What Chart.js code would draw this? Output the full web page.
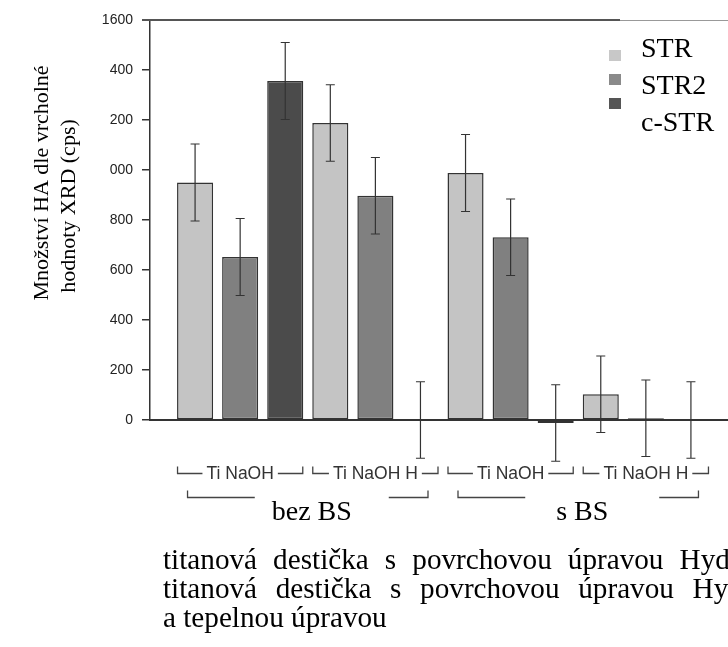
<!DOCTYPE html>
<html><head><meta charset="utf-8">
<script src="https://cdn.jsdelivr.net/npm/chart.js@4.4.0/dist/chart.umd.min.js"></script>
<style>
html,body{margin:0;padding:0;background:#fff;overflow:hidden;width:728px;height:647px;}
#wrap{position:relative;width:728px;height:647px;overflow:hidden;}
canvas{position:absolute;left:0;top:0;}
.cap{position:absolute;left:163px;font-family:'Liberation Serif','Times New Roman',serif;font-size:29.2px;line-height:29px;color:#000;white-space:nowrap;}
</style></head><body>
<div id="wrap">
<canvas id="c" width="780" height="647" style="width:780px;height:647px"></canvas>
<div class="cap" style="top:545px;word-spacing:8.8px">titanová destička s povrchovou úpravou Hyd</div>
<div class="cap" style="top:574px;word-spacing:11.4px">titanová destička s povrchovou úpravou Hyd</div>
<div class="cap" style="top:603px">a tepelnou úpravou</div>
</div>
<script>
// ---- data ----
const groupLabels = ['Ti NaOH', 'Ti NaOH H', 'Ti NaOH', 'Ti NaOH H'];
const superGroups = ['bez BS', 's BS'];
const seriesNames = ['STR', 'STR2', 'c-STR'];
const strValues = [950, 1188, 988, 103];
const str2Values = [652, 897, 731, 7];
const cstrValues = [1356, 0, -12, 0];
const strErrors = [154, 153, 154, 153];
const str2Errors = [154, 153, 153, 153];
const cstrErrors = [154, 153, 153, 153];
const yTickLabels = ['0', '200', '400', '600', '800', '000', '200', '400', '1600'];
const yAxisTitle = ['Množství HA dle vrcholné', 'hodnoty XRD (cps)'];

// ---- style ----
const seriesColors = ['#c4c4c4', '#808080', '#4b4b4b'];
const legendColors = ['#c8c8c8', '#8a8a8a', '#555555'];
const serif = "'Liberation Serif','Times New Roman',serif";
const sans = "'Liberation Sans',Arial,sans-serif";

// ---- build slot table (one slot per bar, plus empty ends) ----
const nSeries = seriesNames.length;
const nSlots = groupLabels.length * nSeries + 2;
const slotLabels = new Array(nSlots).fill('');
groupLabels.forEach((g, gi) => { slotLabels[1 + gi * nSeries + 1] = g; });
const allValues = [strValues, str2Values, cstrValues];
const allErrors = [strErrors, str2Errors, cstrErrors];
const datasets = seriesNames.map((name, si) => {
  const data = new Array(nSlots).fill(null);
  const errs = new Array(nSlots).fill(null);
  allValues[si].forEach((v, gi) => { data[1 + gi * nSeries + si] = v; errs[1 + gi * nSeries + si] = allErrors[si][gi]; });
  return {
    label: name, data, errors: errs,
    backgroundColor: seriesColors[si], borderColor: '#333', borderWidth: 1.5,
    borderSkipped: false, skipNull: true, clip: false,
    categoryPercentage: 1.0, barPercentage: 0.8
  };
});

const errorBars = {
  id: 'errorBars',
  afterDatasetsDraw(chart) {
    const ctx = chart.ctx, y = chart.scales.y, x = chart.scales.x;
    ctx.save();
    ctx.strokeStyle = '#333'; ctx.lineWidth = 1.2;
    chart.data.datasets.forEach((ds) => {
      ds.data.forEach((v, i) => {
        if (v === null) return;
        const e = ds.errors[i];
        const px = x.getPixelForValue(i);
        const t = y.getPixelForValue(v + e), b = y.getPixelForValue(v - e);
        ctx.beginPath();
        ctx.moveTo(px, t); ctx.lineTo(px, b);
        ctx.moveTo(px - 4.5, t); ctx.lineTo(px + 4.5, t);
        ctx.moveTo(px - 4.5, b); ctx.lineTo(px + 4.5, b);
        ctx.stroke();
      });
    });
    ctx.restore();
  }
};

const decorations = {
  id: 'decorations',
  afterDraw(chart) {
    const ctx = chart.ctx, x = chart.scales.x, area = chart.chartArea;
    const pitch = x.getPixelForValue(1) - x.getPixelForValue(0);
    ctx.save();
    // top frame line
    ctx.strokeStyle = '#555'; ctx.lineWidth = 2;
    ctx.beginPath(); ctx.moveTo(area.left - 8, area.top); ctx.lineTo(area.left + 470, area.top); ctx.stroke();
    ctx.strokeStyle = '#999'; ctx.lineWidth = 1;
    ctx.beginPath(); ctx.moveTo(area.left + 470, area.top + 0.5); ctx.lineTo(area.right, area.top + 0.5); ctx.stroke();

    // group brackets around tick labels
    ctx.font = '17.5px ' + sans;
    ctx.strokeStyle = '#444'; ctx.lineWidth = 1.3;
    const by = area.bottom + 53.5;
    groupLabels.forEach((g, gi) => {
      const first = 1 + gi * nSeries, last = first + nSeries - 1, mid = first + 1;
      const l = x.getPixelForValue(first) - pitch / 2 + 5;
      const r = x.getPixelForValue(last) + pitch / 2 - 5;
      const c = x.getPixelForValue(mid);
      const w = ctx.measureText(g).width;
      ctx.beginPath();
      ctx.moveTo(l, by - 7); ctx.lineTo(l, by); ctx.lineTo(c - w / 2 - 4, by);
      ctx.moveTo(c + w / 2 + 4, by); ctx.lineTo(r, by); ctx.lineTo(r, by - 7);
      ctx.stroke();
    });

    // super-group brackets and labels
    ctx.font = '28px ' + serif;
    ctx.fillStyle = '#000'; ctx.textAlign = 'center'; ctx.textBaseline = 'alphabetic';
    const sy = area.bottom + 77.5;
    superGroups.forEach((s, si) => {
      const first = 1 + si * 2 * nSeries, last = first + 2 * nSeries - 1;
      const l = x.getPixelForValue(first) - pitch / 2 + 15;
      const r = x.getPixelForValue(last) + pitch / 2 - 15;
      const c = (x.getPixelForValue(first) + x.getPixelForValue(last)) / 2;
      ctx.beginPath();
      ctx.moveTo(l, sy - 7); ctx.lineTo(l, sy); ctx.lineTo(c - 53, sy);
      ctx.moveTo(c + 81, sy); ctx.lineTo(r, sy); ctx.lineTo(r, sy - 7);
      ctx.stroke();
      ctx.fillText(s, c + 4, area.bottom + 99.5);
    });

    // y axis title (two lines, rotated)
    ctx.font = '22px ' + serif;
    ctx.textBaseline = 'middle';
    const cy = (area.top + area.bottom) / 2;
    const titlePos = [[42.5, cy - 37], [69.5, cy - 14]];
    yAxisTitle.forEach((line, li) => {
      ctx.save();
      ctx.translate(titlePos[li][0], titlePos[li][1]);
      ctx.rotate(-Math.PI / 2);
      ctx.fillText(line, 0, 0);
      ctx.restore();
    });

    // legend
    ctx.textAlign = 'left'; ctx.textBaseline = 'alphabetic';
    ctx.font = '28px ' + serif;
    const lx = area.left + 459;
    chart.data.datasets.forEach((ds, i) => {
      ctx.fillStyle = legendColors[i];
      ctx.fillRect(lx, area.top + 30 + i * 24, 12, 11);
      ctx.fillStyle = '#000';
      ctx.fillText(ds.label, lx + 32, area.top + 37 + i * 37);
    });
    ctx.restore();
  }
};

new Chart(document.getElementById('c'), {
  type: 'bar',
  data: { labels: slotLabels, datasets },
  options: {
    responsive: false, animation: false,
    layout: { padding: { top: 20, right: 6, left: 0, bottom: 0 } },
    plugins: { legend: { display: false }, tooltip: { enabled: false }, title: { display: false } },
    scales: {
      x: {
        type: 'category', offset: false,
        grid: { display: false, drawTicks: false, tickLength: 0 },
        border: { display: true, color: '#333', width: 2 },
        ticks: { autoSkip: false, maxRotation: 0, minRotation: 0, padding: 44, color: '#333',
                 font: { family: sans, size: 17.5 } },
        afterFit(scale) { scale.height = 227; }
      },
      y: {
        min: 0, max: 1600,
        grid: { display: true, drawOnChartArea: false, drawTicks: true, tickLength: 8, color: '#333', lineWidth: 1.5 },
        border: { display: true, color: '#333', width: 1.5 },
        ticks: { stepSize: 200, padding: 9, color: '#222', font: { family: sans, size: 14 },
                 callback: (v) => yTickLabels[Math.round(v / 200)] },
        afterFit(scale) { scale.width = 150; }
      }
    }
  },
  plugins: [errorBars, decorations]
});
</script>
</body></html>
